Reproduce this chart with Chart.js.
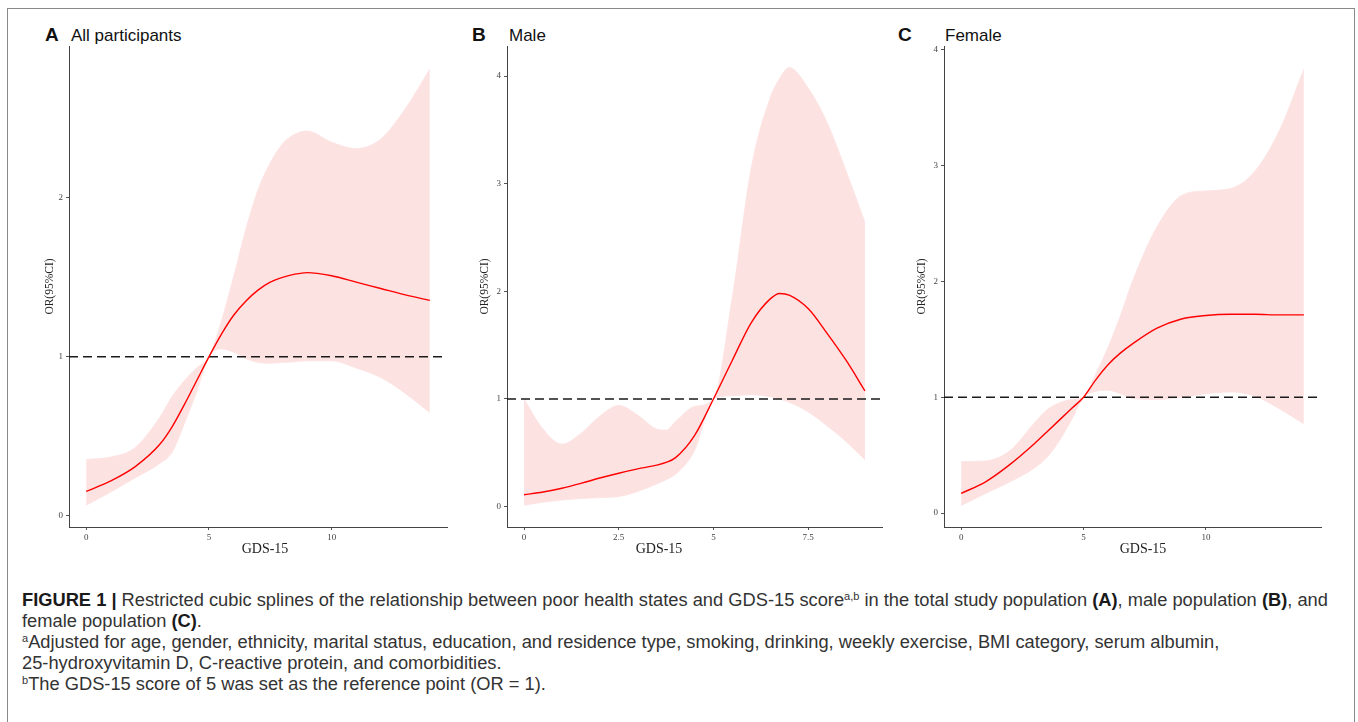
<!DOCTYPE html>
<html>
<head>
<meta charset="utf-8">
<script src="https://cdn.jsdelivr.net/npm/chart.js@4.4.0/dist/chart.umd.min.js"></script>
<style>
  body { margin: 0; width: 1358px; height: 722px; background: #fff; position: relative; overflow: hidden;
         font-family: "Liberation Sans", Arial, sans-serif; }
  .frame { position: absolute; left: 7px; top: 8px; width: 1346px; height: 760px; border: 1.5px solid #8a8a8a; }
  canvas { position: absolute; }
  .plabel { position: absolute; top: 24px; font-size: 19px; font-weight: bold; color: #111; line-height: 22px; }
  .ptitle { position: absolute; top: 25px; font-size: 17px; color: #111; line-height: 22px; white-space: nowrap; }
  .xtitle { position: absolute; top: 541px; font-family: "Liberation Serif", serif; font-size: 14px; color: #222;
            transform: translateX(-50%); white-space: nowrap; }
  .caption { position: absolute; left: 22px; top: 589px; font-size: 18.3px; line-height: 21px; color: #333; white-space: nowrap; }
  .caption b { color: #1a1a1a; }
  .caption sup { font-size: 11px; line-height: 0; vertical-align: 6px; }
</style>
</head>
<body>
<div class="frame"></div>

<div class="plabel" style="left:45px">A</div><div class="ptitle" style="left:71px">All participants</div>
<div class="plabel" style="left:472px">B</div><div class="ptitle" style="left:509px">Male</div>
<div class="plabel" style="left:898px">C</div><div class="ptitle" style="left:945px">Female</div>

<canvas id="chartA" width="440" height="550" style="left:20px;top:20px"></canvas>
<canvas id="chartB" width="440" height="550" style="left:460px;top:20px"></canvas>
<canvas id="chartC" width="440" height="550" style="left:895px;top:20px"></canvas>

<div class="xtitle" style="left:265px">GDS-15</div>
<div class="xtitle" style="left:659px">GDS-15</div>
<div class="xtitle" style="left:1143px">GDS-15</div>

<div class="caption">
  <b>FIGURE 1 |</b> Restricted cubic splines of the relationship between poor health states and GDS-15 score<sup>a,b</sup> in the total study population <b>(A)</b>, male population <b>(B)</b>, and<br>
  female population <b>(C)</b>.<br>
  <sup>a</sup>Adjusted for age, gender, ethnicity, marital status, education, and residence type, smoking, drinking, weekly exercise, BMI category, serum albumin,<br>
  25-hydroxyvitamin D, C-reactive protein, and comorbidities.<br>
  <sup>b</sup>The GDS-15 score of 5 was set as the reference point (OR = 1).
</div>

<script>
// reference OR (dashed line)
const REF_OR = 1;

// A - all participants
const xsA    = [0, 1, 2, 3, 3.5, 4, 4.5, 5, 5.5, 6, 6.5, 7, 7.5, 8, 8.5, 9, 10, 11, 12, 13, 14];
const orA    = [0.154, 0.22, 0.31, 0.45, 0.56, 0.70, 0.85, 1.0, 1.14, 1.26, 1.35, 1.42, 1.47, 1.50, 1.52, 1.53, 1.51, 1.47, 1.43, 1.39, 1.355];
const upperA = [0.355, 0.37, 0.43, 0.62, 0.75, 0.85, 0.93, 1.0, 1.22, 1.50, 1.80, 2.05, 2.22, 2.34, 2.40, 2.42, 2.35, 2.31, 2.37, 2.56, 2.81];
const lowerA = [0.067, 0.15, 0.24, 0.33, 0.40, 0.58, 0.78, 1.0, 1.05, 1.03, 0.99, 0.965, 0.96, 0.965, 0.97, 0.975, 0.975, 0.93, 0.87, 0.77, 0.65];
const xTicksA = [0, 5, 10];
const yTicksA = [0, 1, 2];

// B - male
const xsB    = [0, 0.5, 1, 1.5, 2, 2.5, 3, 3.5, 3.75, 4, 4.5, 5, 5.5, 6, 6.5, 6.75, 7, 7.5, 8, 8.5, 9];
const orB    = [0.11, 0.135, 0.17, 0.215, 0.265, 0.31, 0.35, 0.385, 0.41, 0.455, 0.66, 1.0, 1.36, 1.71, 1.93, 1.98, 1.965, 1.84, 1.61, 1.36, 1.075];
const upperB = [1.0, 0.72, 0.58, 0.68, 0.84, 0.94, 0.85, 0.72, 0.71, 0.79, 0.93, 1.0, 1.95, 3.15, 3.8, 3.98, 4.08, 3.89, 3.57, 3.12, 2.64];
const lowerB = [0.013, 0.04, 0.06, 0.075, 0.083, 0.093, 0.14, 0.21, 0.25, 0.30, 0.52, 1.0, 1.03, 1.04, 1.02, 1.0, 0.97, 0.88, 0.75, 0.605, 0.435];
const xTicksB = [0, 2.5, 5, 7.5];
const yTicksB = [0, 1, 2, 3, 4];

// C - female
const xsC    = [0, 1, 2, 3, 3.5, 4, 4.5, 5, 5.5, 6, 6.5, 7, 8, 9, 10, 11, 12, 13, 14];
const orC    = [0.17, 0.27, 0.42, 0.6, 0.7, 0.8, 0.9, 1.0, 1.15, 1.28, 1.38, 1.46, 1.595, 1.675, 1.705, 1.715, 1.715, 1.71, 1.71];
const upperC = [0.445, 0.45, 0.54, 0.78, 0.89, 0.95, 0.98, 1.0, 1.2, 1.43, 1.7, 2.0, 2.47, 2.74, 2.78, 2.80, 2.95, 3.30, 3.83];
const lowerC = [0.065, 0.17, 0.27, 0.39, 0.48, 0.62, 0.8, 1.0, 1.05, 1.06, 1.03, 0.99, 0.98, 1.0, 1.03, 1.045, 1.01, 0.90, 0.77];
const xTicksC = [0, 5, 10];
const yTicksC = [0, 1, 2, 3, 4];

const BAND = 'rgb(253, 226, 226)';
const serif = 'Liberation Serif';

function makePanel(id, xs, or, lo, hi, xTicks, yTicks, xLim, yLim, yAxisW, rightPad, titlePad) {
  const pts = arr => xs.map((x, i) => ({ x: x, y: arr[i] }));
  return new Chart(document.getElementById(id), {
    type: 'line',
    data: {
      datasets: [
        { data: pts(hi), fill: '+1', backgroundColor: BAND, borderColor: BAND, borderWidth: 0.8,
          pointRadius: 0, cubicInterpolationMode: 'monotone', order: 3 },
        { data: pts(lo), fill: false, borderColor: BAND, borderWidth: 0.8,
          pointRadius: 0, cubicInterpolationMode: 'monotone', order: 3 },
        { data: [{ x: xLim[0], y: REF_OR }, { x: xLim[1], y: REF_OR }], borderColor: '#1a1a1a', borderWidth: 1.5,
          borderDash: [9, 5], pointRadius: 0, fill: false, order: 2 },
        { data: pts(or), borderColor: '#ff0000', borderWidth: 1.4, pointRadius: 0, fill: false,
          cubicInterpolationMode: 'monotone', order: 1 }
      ]
    },
    options: {
      responsive: false,
      animation: false,
      layout: { padding: { top: 26, right: rightPad, left: 0, bottom: 0 } },
      plugins: { legend: { display: false }, tooltip: { enabled: false } },
      scales: {
        x: {
          type: 'linear', min: xLim[0], max: xLim[1],
          afterBuildTicks: s => { s.ticks = xTicks.map(v => ({ value: v })); },
          afterFit: s => { s.height = 43; },
          grid: { display: true, drawOnChartArea: false, drawTicks: true, tickLength: 3, color: '#555' },
          border: { display: true, color: '#444', width: 1 },
          ticks: { font: { family: serif, size: 9 }, color: '#444', padding: 2, maxRotation: 0 }
        },
        y: {
          type: 'linear', min: yLim[0], max: yLim[1],
          afterBuildTicks: s => { s.ticks = yTicks.map(v => ({ value: v })); },
          afterFit: s => { s.width = yAxisW; },
          grid: { display: true, drawOnChartArea: false, drawTicks: true, tickLength: 3, color: '#555' },
          border: { display: true, color: '#444', width: 1 },
          ticks: { font: { family: serif, size: 9 }, color: '#444', padding: 3 },
          title: { display: true, text: 'OR(95%CI)', font: { family: serif, size: 11.5 }, color: '#222',
                   padding: { top: titlePad, bottom: 0 } }
        }
      }
    }
  });
}

makePanel('chartA', xsA, orA, lowerA, upperA, xTicksA, yTicksA, [-0.7, 14.7], [-0.07, 2.955], 49, 13, 23);
makePanel('chartB', xsB, orB, lowerB, upperB, xTicksB, yTicksB, [-0.45, 9.45], [-0.19, 4.28], 47, 18, 18);
makePanel('chartC', xsC, orC, lowerC, upperC, xTicksC, yTicksC, [-0.7, 14.7], [-0.12, 4.03], 49, 14, 20);
</script>
</body>
</html>
